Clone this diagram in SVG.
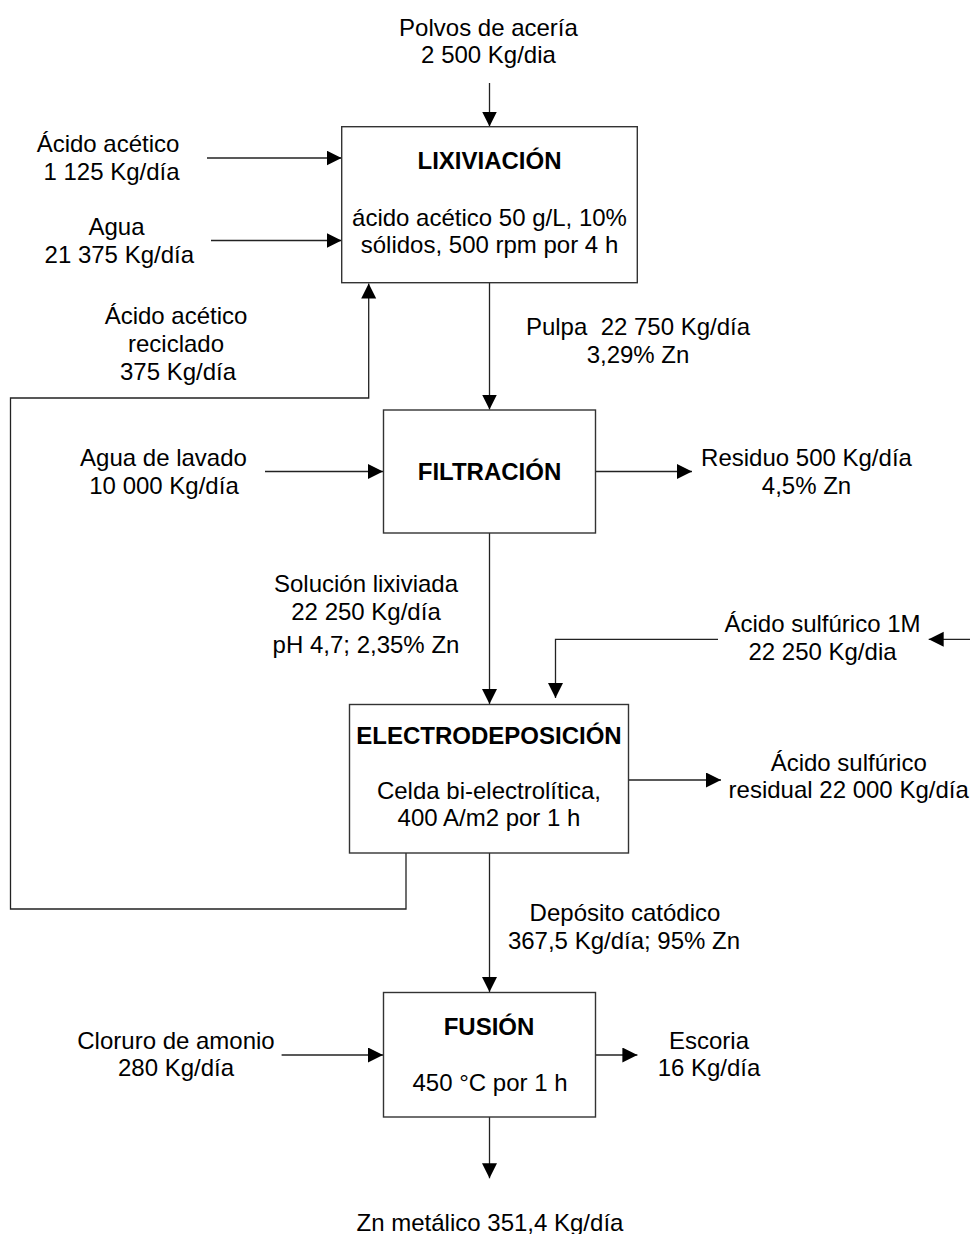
<svg xmlns="http://www.w3.org/2000/svg" width="970" height="1234" viewBox="0 0 970 1234">
<style>
text{font-family:"Liberation Sans",Arial,sans-serif;font-size:24px;fill:#000;text-anchor:middle}
.b{font-weight:bold}
.box{fill:#fff;stroke:#333;stroke-width:1.4}
.ln{fill:none;stroke:#222;stroke-width:1.3}
.pre{white-space:pre}
</style>
<defs>
<marker id="ah" markerUnits="userSpaceOnUse" markerWidth="16" markerHeight="16" refX="15" refY="7.5" orient="auto">
<path d="M0,0 L15,7.5 L0,15 Z" fill="#000"/>
</marker>
</defs>
<rect width="970" height="1234" fill="#fff"/>
<g id="connectors">
<line class="ln" x1="489.5" y1="83" x2="489.5" y2="126.5" marker-end="url(#ah)"/>
<line class="ln" x1="207" y1="158" x2="341.5" y2="158" marker-end="url(#ah)"/>
<line class="ln" x1="211" y1="240.5" x2="341.5" y2="240.5" marker-end="url(#ah)"/>
<polyline class="ln" points="406,853 406,909 10.5,909 10.5,398 368.7,398 368.7,283.5" marker-end="url(#ah)"/>
<line class="ln" x1="489.5" y1="283" x2="489.5" y2="409.5" marker-end="url(#ah)"/>
<line class="ln" x1="265" y1="471.5" x2="383" y2="471.5" marker-end="url(#ah)"/>
<line class="ln" x1="596" y1="471.5" x2="692" y2="471.5" marker-end="url(#ah)"/>
<line class="ln" x1="489.5" y1="533" x2="489.5" y2="704" marker-end="url(#ah)"/>
<polyline class="ln" points="718,639.3 555.5,639.3 555.5,698" marker-end="url(#ah)"/>
<line class="ln" x1="970" y1="639.3" x2="928.7" y2="639.3" marker-end="url(#ah)"/>
<line class="ln" x1="629" y1="780" x2="721" y2="780" marker-end="url(#ah)"/>
<line class="ln" x1="489.5" y1="853" x2="489.5" y2="992" marker-end="url(#ah)"/>
<line class="ln" x1="281.6" y1="1055" x2="383" y2="1055" marker-end="url(#ah)"/>
<line class="ln" x1="596" y1="1055" x2="637.4" y2="1055" marker-end="url(#ah)"/>
<line class="ln" x1="489.5" y1="1117" x2="489.5" y2="1178.3" marker-end="url(#ah)"/>
</g>
<g id="lixiviacion">
<rect class="box" x="341.7" y="126.7" width="295.6" height="156"/>
<text class="b" x="489.5" y="169.3">LIXIVIACIÓN</text>
<text x="489.5" y="226">ácido acético 50 g/L, 10%</text>
<text x="489.5" y="253.3">sólidos, 500 rpm por 4 h</text>
</g>
<g id="filtracion">
<rect class="box" x="383.5" y="410" width="212" height="123"/>
<text class="b" x="489.5" y="480">FILTRACIÓN</text>
</g>
<g id="electrodeposicion">
<rect class="box" x="349.5" y="704.5" width="279" height="148.5"/>
<text class="b" x="489" y="743.5">ELECTRODEPOSICIÓN</text>
<text x="489" y="799">Celda bi-electrolítica,</text>
<text x="489" y="826">400 A/m2 por 1 h</text>
</g>
<g id="fusion">
<rect class="box" x="383.5" y="992.5" width="212" height="124.5"/>
<text class="b" x="489" y="1034.5">FUSIÓN</text>
<text x="490" y="1091">450 °C por 1 h</text>
</g>
<g id="label-polvos">
<text x="488.5" y="35.7">Polvos de acería</text>
<text x="488.5" y="62.7">2 500 Kg/dia</text>
</g>
<g id="label-acido-acetico">
<text x="108" y="152">Ácido acético</text>
<text x="111.5" y="180">1 125 Kg/día</text>
</g>
<g id="label-agua">
<text x="116.5" y="235">Agua</text>
<text x="119.3" y="263">21 375 Kg/día</text>
</g>
<g id="label-reciclado">
<text x="176" y="323.5">Ácido acético</text>
<text x="176" y="352">reciclado</text>
<text x="178" y="380">375 Kg/día</text>
</g>
<g id="label-pulpa">
<text class="pre" x="638" y="334.5">Pulpa  22 750 Kg/día</text>
<text x="638" y="362.5">3,29% Zn</text>
</g>
<g id="label-agua-lavado">
<text x="163.5" y="466">Agua de lavado</text>
<text x="164" y="493.5">10 000 Kg/día</text>
</g>
<g id="label-residuo">
<text x="806.5" y="466">Residuo 500 Kg/día</text>
<text x="806.5" y="493.5">4,5% Zn</text>
</g>
<g id="label-solucion">
<text x="366" y="592">Solución lixiviada</text>
<text x="366" y="620">22 250 Kg/día</text>
<text x="366" y="653">pH 4,7; 2,35% Zn</text>
</g>
<g id="label-sulfurico">
<text x="822.5" y="631.7">Ácido sulfúrico 1M</text>
<text x="822.5" y="660">22 250 Kg/dia</text>
</g>
<g id="label-sulfurico-residual">
<text x="848.7" y="770.5">Ácido sulfúrico</text>
<text x="848.7" y="798">residual 22 000 Kg/día</text>
</g>
<g id="label-deposito">
<text x="625" y="921">Depósito catódico</text>
<text x="624" y="949">367,5 Kg/día; 95% Zn</text>
</g>
<g id="label-cloruro">
<text x="176" y="1048.5">Cloruro de amonio</text>
<text x="176" y="1076">280 Kg/día</text>
</g>
<g id="label-escoria">
<text x="709" y="1048.5">Escoria</text>
<text x="709" y="1076">16 Kg/día</text>
</g>
<g id="label-zn">
<text x="490" y="1231">Zn metálico 351,4 Kg/día</text>
</g>
</svg>
